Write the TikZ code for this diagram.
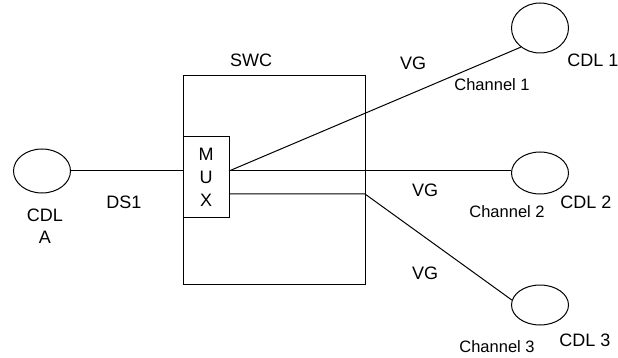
\documentclass[tikz,border=0pt]{standalone}
\usepackage{fontspec}
\setmainfont{Liberation Sans}
\usetikzlibrary{positioning,shapes.geometric}

\begin{document}
\begin{tikzpicture}[x=1pt,y=-1pt,
        cdlnode/.style={ellipse, draw, line width=1pt, minimum width=57pt, inner sep=0pt},
        boxnode/.style={rectangle, draw, line width=1pt, inner sep=0pt},
        biglabel/.style={inner sep=0pt, align=center, font=\fontsize{18}{22}\selectfont},
        chlabel/.style={inner sep=0pt, font=\fontsize{16.5}{20}\selectfont},
        link/.style={line width=1pt}
        ]
        \useasboundingbox (0,0) rectangle (618,358);
        % end points
        \node[cdlnode, minimum height=44pt]     (cdl_a) at (42,171)     {};
        \node[cdlnode, minimum height=50pt]     (cdl_1) at (540,28)     {};
        \node[cdlnode, minimum height=42pt]     (cdl_2) at (540,173)    {};
        \node[cdlnode, minimum height=40pt]     (cdl_3) at (540,305)    {};
        % switch and multiplexer
        \node[boxnode, minimum width=182pt, minimum height=208pt]  (swc) at (274,180)  {};
        \node[boxnode, minimum width=46pt, minimum height=80pt, align=center,
              font=\fontsize{18}{23}\selectfont]                (mux) at (206,177)  {M\\U\\X};
        \coordinate (tap_1) at (229,171);
        \coordinate (tap_2) at (229,194);
        \coordinate (bend_3) at (365,194);
        % labels
        \node[biglabel] (cdl_a_lbl)   at (45,226)   {CDL\\A};
        \node[biglabel] (ds1_lbl)     at (124,202)  {DS1};
        \node[biglabel] (swc_lbl)     at (251,60)   {SWC};
        \node[biglabel] (vg_1)        at (413,63)   {VG};
        \node[biglabel] (vg_2)        at (425,190)  {VG};
        \node[biglabel] (vg_3)        at (425,273)  {VG};
        \node[biglabel] (cdl_1_lbl)   at (593,60)   {CDL 1};
        \node[biglabel] (cdl_2_lbl)   at (586,202)  {CDL 2};
        \node[biglabel] (cdl_3_lbl)   at (585,340)  {CDL 3};
        \node[chlabel]  (ch_1)        at (492,85)   {Channel 1};
        \node[chlabel]  (ch_2)        at (507,212)  {Channel 2};
        \node[chlabel]  (ch_3)        at (497,347)  {Channel 3};
        % connections
        \draw[link] (cdl_a.east) -- (cdl_a.east -| mux.west);
        \draw[link] (tap_1) -- (cdl_1.225);
        \draw[link] (tap_1) -- (tap_1 -| cdl_2.west);
        \draw[link] (tap_2) -- (bend_3) -- (cdl_3.170);
    \end{tikzpicture}
\end{document}
